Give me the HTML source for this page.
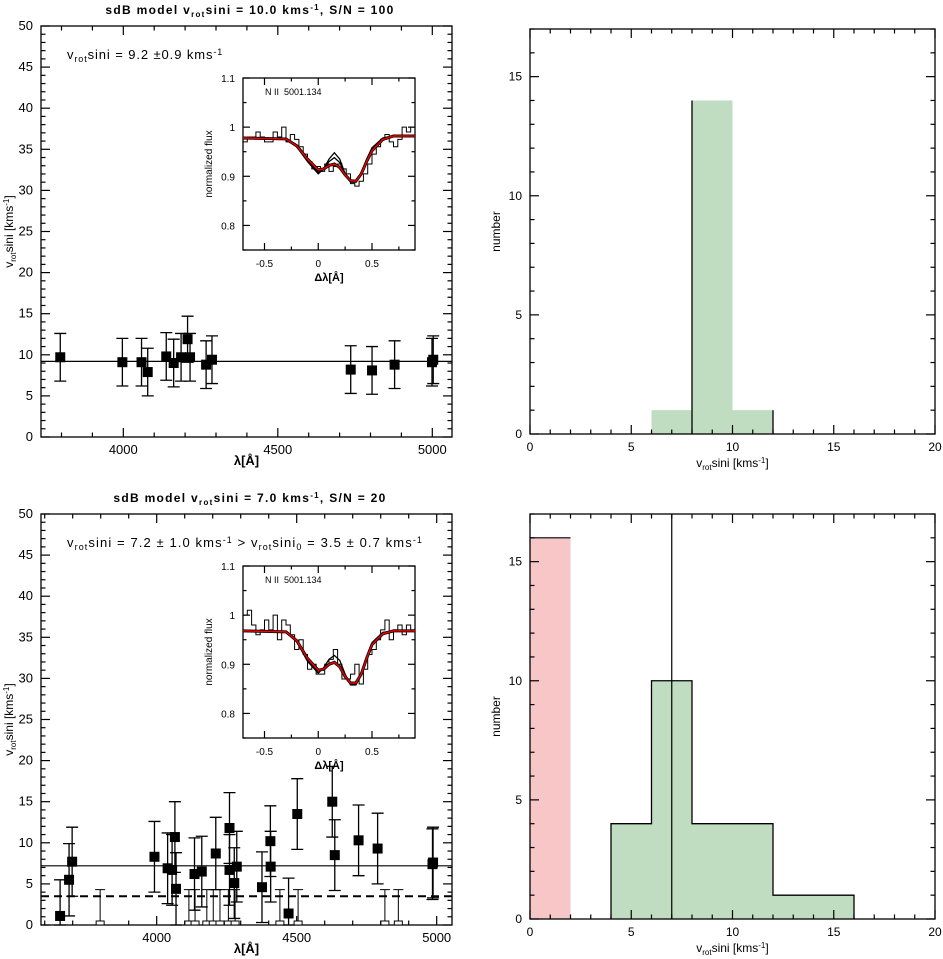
<!DOCTYPE html>
<html><head><meta charset="utf-8">
<style>
html,body{margin:0;padding:0;background:#fff;}
svg{display:block;font-family:"Liberation Sans",sans-serif;}
</style></head>
<body>
<svg id="fig" width="943" height="959" viewBox="0 0 943 959" xmlns="http://www.w3.org/2000/svg"></svg>
<script>
// ===== data: top-left panel (S/N=100) =====
const tlLambda = [3796,3997,4059,4079,4139,4163,4187,4208,4216,4268,4287,4736,4805,4878,4999,5003];
const tlV      = [9.7,9.1,9.1,7.9,9.8,9.0,9.7,11.9,9.7,8.8,9.4,8.2,8.1,8.8,9.1,9.4];
const tlErr    = [2.9,2.9,2.9,2.9,2.9,2.9,2.9,2.8,2.9,2.9,2.9,2.9,2.9,2.9,2.9,2.9];
const tlMean = 9.2;
// ===== data: bottom-left panel (S/N=20) =====
const blLambda = [3655,3687,3698,3992,4039,4055,4065,4069,4135,4161,4211,4260,4260,4277,4286,4376,4406,4407,4471,4502,4627,4636,4721,4789,4985,4987];
const blV      = [1.1,5.5,7.7,8.3,6.9,6.7,10.7,4.4,6.2,6.5,8.7,11.8,6.7,5.1,7.1,4.6,10.2,7.1,1.4,13.5,15.0,8.5,10.3,9.3,7.4,7.6];
const blErr    = [4.4,4.4,4.2,4.3,4.3,4.3,4.3,4.4,4.4,4.3,4.4,4.3,4.3,4.3,4.3,4.3,4.3,4.3,4.3,4.3,4.3,4.3,4.3,4.3,4.3,4.3];
const blZeroLambda = [3798,4115,4137,4179,4202,4226,4256,4280,4440,4505,4815,4863];
const blZeroErr = 4.3;
const blMean = 7.2, blMean0 = 3.5;
// ===== insets =====
const fitX  = [-0.7,-0.3,-0.2,-0.1,0,0.05,0.1,0.15,0.2,0.25,0.3,0.35,0.4,0.45,0.5,0.6,0.7,0.9];
const fitTop= [0.978,0.976,0.962,0.935,0.913,0.915,0.922,0.925,0.918,0.903,0.891,0.890,0.905,0.930,0.952,0.975,0.982,0.982];
const modTopA=[0.978,0.976,0.960,0.930,0.905,0.915,0.935,0.948,0.935,0.905,0.888,0.888,0.905,0.935,0.958,0.978,0.982,0.982];
const modTopB=[0.978,0.976,0.961,0.932,0.908,0.915,0.930,0.938,0.928,0.904,0.889,0.889,0.905,0.932,0.955,0.977,0.982,0.982];
const obsTop= [0.97,0.98,0.98,0.99,0.98,0.97,0.97,0.99,0.98,1.0,0.97,0.985,0.975,0.96,0.945,0.93,0.915,0.92,0.91,0.925,0.91,0.92,0.925,0.915,0.905,0.885,0.88,0.89,0.905,0.925,0.945,0.96,0.975,0.985,0.97,0.96,0.975,1.0,0.99,1.0];
const fitBot= [0.968,0.966,0.948,0.912,0.888,0.890,0.900,0.904,0.895,0.875,0.862,0.862,0.880,0.912,0.940,0.962,0.968,0.968];
const modBotA=[0.968,0.966,0.946,0.906,0.882,0.893,0.910,0.918,0.908,0.880,0.858,0.858,0.878,0.914,0.944,0.965,0.968,0.968];
const obsBot= [1.0,1.01,0.98,0.96,0.97,0.99,0.97,1.0,0.95,0.99,0.98,0.96,0.93,0.95,0.92,0.89,0.9,0.88,0.88,0.9,0.91,0.93,0.9,0.87,0.87,0.88,0.9,0.86,0.89,0.92,0.93,0.95,0.97,0.99,0.95,0.97,0.98,0.96,0.98,0.97];
// ===== histograms =====
const histTopEdges=[6,8,10,12];
const histTopCounts=[1,14,1];
const histBotRedEdges=[0,2];
const histBotRedCounts=[16];
const histBotEdges=[4,6,8,10,12,14,16];
const histBotCounts=[4,10,4,4,1,1];
const histBotLine=7;

const svg=document.getElementById('fig');
const NS='http://www.w3.org/2000/svg';
function el(tag,attrs,parent){const e=document.createElementNS(NS,tag);for(const k in attrs)e.setAttribute(k,attrs[k]);(parent||svg).appendChild(e);return e;}
function txt(s,x,y,opt,parent){const t=el('text',Object.assign({x:x,y:y,'font-size':12,fill:'#000'},opt||{}),parent);t.innerHTML=s;return t;}
function lin(a,b){return v=>a[1]+(v-a[0])*(b[1]-a[1])/(b[0]-a[0]);}

function frame(g,L,T,R,B,sx,sy,xmaj,xmin,ymaj,ymin,xr,yr,fmtx,fmty,len,fs){
  el('rect',{x:L,y:T,width:R-L,height:B-T,fill:'none',stroke:'#000','stroke-width':1.3},g);
  for(let v=Math.ceil(xr[0]/xmin)*xmin;v<=xr[1]+1e-9;v+=xmin){
    const maj=Math.abs(v/xmaj-Math.round(v/xmaj))<1e-6;const l=maj?len:len/2;const x=sx(v);
    el('line',{x1:x,y1:B,x2:x,y2:B-l,stroke:'#000','stroke-width':1.2},g);
    el('line',{x1:x,y1:T,x2:x,y2:T+l,stroke:'#000','stroke-width':1.2},g);
    if(maj&&fmtx)txt(fmtx(v),x,B+17,{'text-anchor':'middle','font-size':fs},g);
  }
  for(let v=Math.ceil(yr[0]/ymin)*ymin;v<=yr[1]+1e-9;v+=ymin){
    const maj=Math.abs(v/ymaj-Math.round(v/ymaj))<1e-6;const l=maj?len:len/2;const y=sy(v);
    el('line',{x1:L,y1:y,x2:L+l,y2:y,stroke:'#000','stroke-width':1.2},g);
    el('line',{x1:R,y1:y,x2:R-l,y2:y,stroke:'#000','stroke-width':1.2},g);
    if(maj&&fmty)txt(fmty(v),L-8,y+4,{'text-anchor':'end','font-size':fs},g);
  }
}
function rnd(v){return (Math.round(v*100)/100).toString();}

function scatterPanel(name,top,title,annot,annotSp,lx,ly,le,zl,ze,mean,mean0,xmn,xmx,x4000,x5000){
  const g=el('g',{});
  const L=41,R=452,T=top,B=top+411;
  const sx=lin([4000,x4000],[5000,x5000]);const sy=lin([0,B],[50,T]);
  const t=txt(title,250,top-12,{'text-anchor':'middle','font-weight':'bold','font-size':12,'letter-spacing':'1.3'},g);
  
  frame(g,L,T,R,B,sx,sy,500,100,5,1,[xmn,xmx],[0,50],v=>String(v),v=>String(v),9,13);
  const a=txt(annot,67,top+33,{'font-size':13,'letter-spacing':annotSp},g);
  
  el('line',{x1:L,y1:sy(mean),x2:R,y2:sy(mean),stroke:'#000','stroke-width':1.2},g);
  if(mean0!=null){const d=el('line',{x1:L,y1:sy(mean0),x2:R,y2:sy(mean0),stroke:'#000','stroke-width':2,'stroke-dasharray':'8,5'},g);}
  if(zl){for(let i=0;i<zl.length;i++){const x=sx(zl[i]);
    const e=el('path',{d:`M${x},${sy(0)}V${sy(ze)}M${x-5},${sy(ze)}H${x+5}`,stroke:'#000','stroke-width':1,fill:'none'},g);
    
    const r=el('rect',{x:x-4,y:sy(0)-4,width:8,height:4,fill:'#fff',stroke:'#000','stroke-width':1},g);
    }}
  for(let i=0;i<lx.length;i++){const x=sx(lx[i]),y=sy(ly[i]),y1=sy(ly[i]+le[i]),y2=sy(Math.max(0,ly[i]-le[i]));
    const e=el('path',{d:`M${x},${y1}V${y2}M${x-6},${y1}H${x+6}M${x-6},${y2}H${x+6}`,stroke:'#000','stroke-width':1.3,fill:'none'},g);
    
    const p=el('rect',{x:x-5,y:y-5,width:10,height:10,fill:'#000'},g);
    }
  const xl=txt('λ[Å]',(L+R)/2,B+28,{'text-anchor':'middle','font-weight':'bold','font-size':13},g);
  
  const yl=txt('v<tspan font-size="8" dy="3">rot</tspan><tspan dy="-3">sini [kms</tspan><tspan font-size="8" dy="-4">-1</tspan><tspan dy="4">]</tspan>',0,0,{'text-anchor':'middle','font-size':12,transform:`translate(13,${(T+B)/2}) rotate(-90)`},g);
  
  return g;
}
function inset(parent,name,top,fit,mods,obs,labels){
  const g=el('g',{},parent);
  const L=243,R=415,T=top,B=top+172;
  el('rect',{x:L,y:T,width:R-L,height:B-T,fill:'#fff'},g);
  const sx=lin([-0.7,L],[0.9,R]);const sy=lin([0.75,B],[1.1,T]);
  frame(g,L,T,R,B,sx,sy,0.5,0.25,0.1,0.05,[-0.7,0.9],[0.75,1.1],v=>rnd(v),v=>labels?rnd(v):'',7,10);
  let d='';const w=1.6/obs.length;
  for(let i=0;i<obs.length;i++){const x0=sx(-0.7+i*w),x1=sx(-0.7+(i+1)*w),y=sy(obs[i]);d+=(i?'L':'M')+x0+','+y+'L'+x1+','+y;}
  el('path',{d:d,fill:'none',stroke:'#000','stroke-width':1},g);
  mods.forEach(m=>{const p=fitX.map((v,i)=>sx(v)+','+sy(m[i])).join(' ');
    el('polyline',{points:p,fill:'none',stroke:'#000','stroke-width':1.3},g);});
  const p=fitX.map((v,i)=>sx(v)+','+sy(fit[i])).join(' ');
  el('polyline',{points:p,fill:'none',stroke:'#000','stroke-width':3},g);
  el('polyline',{points:p,fill:'none',stroke:'#e00','stroke-width':1.5},g);
  txt('N II&#160;&#160;5001.134',265,T+17,{'font-size':9},g);
  txt('Δλ[Å]',(L+R)/2,B+31,{'text-anchor':'middle','font-size':11,'font-weight':'bold'},g);
  txt('normalized flux',0,0,{'text-anchor':'middle','font-size':10,transform:`translate(212,${(T+B)/2}) rotate(-90)`},g);
}
function hist(name,top,edges,counts,fill,redE,redC,vline,outline){
  const g=el('g',{});
  const L=530,R=935,T=top,B=top+405;
  const sx=lin([0,L],[20,R]);const sy=lin([0,B],[17,T]);
  if(redE){for(let i=0;i<redC.length;i++){const r=el('rect',{x:sx(redE[i]),y:sy(redC[i]),width:sx(redE[i+1])-sx(redE[i]),height:B-sy(redC[i]),fill:'#f7c6c6'},g);
    
    el('line',{x1:sx(redE[i]),y1:sy(redC[i]),x2:sx(redE[i+1]),y2:sy(redC[i]),stroke:'#000','stroke-width':1.2},g);}}
  for(let i=0;i<counts.length;i++){const r=el('rect',{x:sx(edges[i]),y:sy(counts[i]),width:sx(edges[i+1])-sx(edges[i]),height:B-sy(counts[i]),fill:'#c0ddc2'},g);
    }
  if(outline){let d='M'+sx(edges[0])+','+B;
    for(let i=0;i<counts.length;i++){d+='L'+sx(edges[i])+','+sy(counts[i])+'L'+sx(edges[i+1])+','+sy(counts[i]);}
    d+='L'+sx(edges[edges.length-1])+','+B;
    el('path',{d:d,fill:'none',stroke:'#000','stroke-width':1.3},g);}
  else{for(let i=1;i<counts.length;i++){if(counts[i]>counts[i-1]){el('line',{x1:sx(edges[i]),y1:B,x2:sx(edges[i]),y2:sy(counts[i]),stroke:'#000','stroke-width':1.3},g);}}
    const n=counts.length;el('line',{x1:sx(edges[n]),y1:B,x2:sx(edges[n]),y2:sy(counts[n-1]),stroke:'#000','stroke-width':1.3},g);}
  if(vline!=null){el('line',{x1:sx(vline),y1:T,x2:sx(vline),y2:B,stroke:'#000','stroke-width':1.2},g);}
  frame(g,L,T,R,B,sx,sy,5,1,5,1,[0,20],[0,17],v=>String(v),v=>String(v),9,12);
  txt('v<tspan font-size="8" dy="3">rot</tspan><tspan dy="-3">sini [kms</tspan><tspan font-size="8" dy="-4">-1</tspan><tspan dy="4">]</tspan>',(L+R)/2,B+33,{'text-anchor':'middle','font-size':12},g);
  txt('number',0,0,{'text-anchor':'middle','font-size':12,transform:`translate(500,${(T+B)/2}) rotate(-90)`},g);
}

const g1=scatterPanel('scatter-sn100',26,'sdB model v<tspan font-size="8" dy="3">rot</tspan><tspan dy="-3">sini = 10.0 kms</tspan><tspan font-size="8" dy="-4">-1</tspan><tspan dy="4">, S/N = 100</tspan>',
 'v<tspan font-size="9" dy="3">rot</tspan><tspan dy="-3">sini = 9.2 ±0.9 kms</tspan><tspan font-size="9" dy="-4">-1</tspan>','0.9',
 tlLambda,tlV,tlErr,null,0,tlMean,null,3734,5064,123.3,432.3);
inset(g1,'inset-spectrum-sn100',78,fitTop,[modTopA,modTopB],obsTop,true);
const g2=scatterPanel('scatter-sn20',514,'sdB model v<tspan font-size="8" dy="3">rot</tspan><tspan dy="-3">sini = 7.0 kms</tspan><tspan font-size="8" dy="-4">-1</tspan><tspan dy="4">, S/N = 20</tspan>',
 'v<tspan font-size="9" dy="3">rot</tspan><tspan dy="-3">sini = 7.2 ± 1.0 kms</tspan><tspan font-size="9" dy="-4">-1</tspan><tspan dy="4"> &gt; v</tspan><tspan font-size="9" dy="3">rot</tspan><tspan dy="-3">sini</tspan><tspan font-size="9" dy="3">0</tspan><tspan dy="-3"> = 3.5 ± 0.7 kms</tspan><tspan font-size="9" dy="-4">-1</tspan>','1.1',
 blLambda,blV,blErr,blZeroLambda,blZeroErr,blMean,blMean0,3586,5054,156.7,436.7);
inset(g2,'inset-spectrum-sn20',566,fitBot,[modBotA],obsBot,true);
hist('histogram-sn100',29,histTopEdges,histTopCounts,'#c0ddc2',null,null,null,false);
hist('histogram-sn20',514,histBotEdges,histBotCounts,'#c0ddc2',histBotRedEdges,histBotRedCounts,histBotLine,true);
</script>
</body></html>
